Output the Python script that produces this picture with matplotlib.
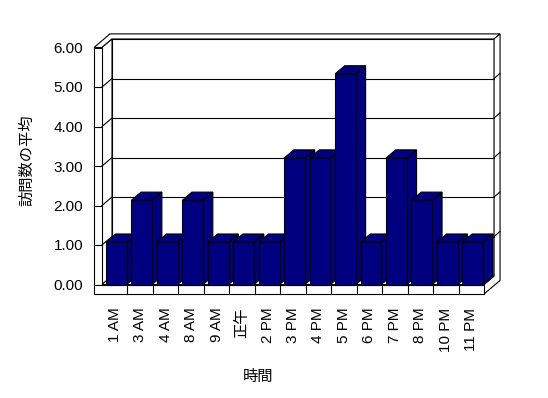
import matplotlib
matplotlib.use('Agg')
import matplotlib.pyplot as plt
from matplotlib.patches import Polygon
import numpy as np

hours = ['1 AM', '3 AM', '4 AM', '8 AM', '9 AM', '正午', '2 PM', '3 PM',
         '4 PM', '5 PM', '6 PM', '7 PM', '8 PM', '10 PM', '11 PM']
avg_visits = [1.07, 2.13, 1.07, 2.13, 1.07, 1.07, 1.07, 3.20,
              3.20, 5.33, 1.07, 3.20, 2.13, 1.07, 1.07]
y_ticks = [0, 1, 2, 3, 4, 5, 6]
y_ticklabels = ['0.00', '1.00', '2.00', '3.00', '4.00', '5.00', '6.00']

plt.rcParams['font.family'] = ['Liberation Sans', 'Noto Sans CJK JP']

W, H = 548, 398
fig = plt.figure(figsize=(W / 100, H / 100), dpi=100)
ax = fig.add_axes([90 / W, (H - 298) / H, 415 / W, 270 / H])

# pixel scale of one category / one unit on the front plane
cat_px = 25.47
unit_px = 39.5
x0_px, y0_px = 102, 284.5
ax.set_xlim((90 - x0_px) / cat_px, (505 - x0_px) / cat_px)
ax.set_ylim((y0_px - 298) / unit_px, (y0_px - 28) / unit_px)

n = len(hours)
ymax = y_ticks[-1]
DX = 10 / cat_px      # depth offset (oblique projection)
DY = 8.5 / unit_px
wall = 8 / cat_px     # left wall thickness
floor = 9.5 / unit_px # floor thickness
back = 1.6            # outer face of back wall
navy = '#000080'
lw = 0.8


def proj(x, y, d):
    return (x + d * DX, y + d * DY)


def face(pts, fc='white', z=1):
    ax.add_patch(Polygon([proj(*p) for p in pts], closed=True, facecolor=fc,
                         edgecolor='black', lw=lw, zorder=z))


def line(p, q, z=2):
    a, b = proj(*p), proj(*q)
    ax.plot([a[0], b[0]], [a[1], b[1]], color='black', lw=lw, zorder=z)


# walls and floor
face([(0, 0, 1), (n, 0, 1), (n, ymax, 1), (0, ymax, 1)])
face([(-wall, ymax, 0), (0, ymax, 0), (0, ymax, 1), (n, ymax, 1),
      (n, ymax, back), (-wall, ymax, back)])
face([(n, -floor, 0), (n, 0, 0), (n, 0, 1), (n, ymax, 1),
      (n, ymax, back), (n, -floor, back)])
face([(0, 0, 0), (0, ymax, 0), (0, ymax, 1), (0, 0, 1)])
face([(0, 0, 0), (n, 0, 0), (n, 0, 1), (0, 0, 1)])
face([(-wall, 0, 0), (0, 0, 0), (0, ymax, 0), (-wall, ymax, 0)])
face([(-wall, -floor, 0), (n, -floor, 0), (n, 0, 0), (-wall, 0, 0)])
for i in range(1, n):
    line((i, -floor, 0), (i, 0, 0))

# gridlines
for v in y_ticks[1:-1]:
    line((-wall, v, 0), (0, v, 0))
    line((0, v, 0), (0, v, 1))
    line((0, v, 1), (n, v, 1))
    line((n, v, 1), (n, v, back))

# bars
bx = np.arange(n) + 0.15
bw = 0.82
bd = 0.97
bars = ax.bar(bx, avg_visits, width=bw, align='edge', color=navy,
              edgecolor='black', linewidth=lw)
for i, (b, v) in enumerate(zip(bars, avg_visits)):
    x = bx[i]
    z = 3 + 2 * i
    face([(x + bw, 0, 0), (x + bw, 0, bd), (x + bw, v, bd), (x + bw, v, 0)],
         fc=navy, z=z)
    face([(x, v, 0), (x + bw, v, 0), (x + bw, v, bd), (x, v, bd)],
         fc=navy, z=z)
    b.set_zorder(z + 1)

ax.set_yticks(y_ticks, y_ticklabels)
ax.set_xticks(np.arange(n) + 0.5, hours, rotation=90)
ax.tick_params(axis='y', length=0, pad=5, labelsize=11)
ax.tick_params(axis='x', length=0, pad=7, labelsize=11)
for s in ax.spines.values():
    s.set_visible(False)
ax.patch.set_visible(False)

ax.set_ylabel('訪問数の平均', fontsize=11)
ax.yaxis.set_label_coords(-0.152, 0.511)
ax.yaxis.label.set_va('center')
ax.set_xlabel('時間', fontsize=11)
ax.xaxis.set_label_coords(0.405, -0.293)
ax.xaxis.label.set_va('center')

fig.savefig('out.png', dpi=100)
